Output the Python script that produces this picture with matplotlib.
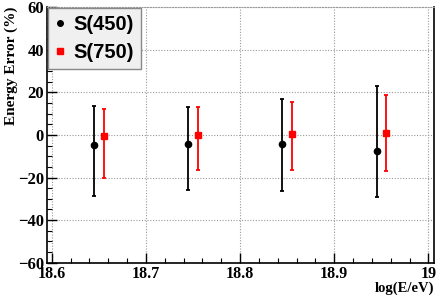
import matplotlib
matplotlib.use('Agg')
import matplotlib.pyplot as plt
from matplotlib.lines import Line2D
from matplotlib.ticker import MultipleLocator

# data
log_e_450 = [18.645, 18.745, 18.845, 18.945]
err_450 = [-4.8, -4.3, -4.3, -7.5]
err_450_up = [13.5, 13.2, 17.0, 22.9]
err_450_down = [-28.6, -25.7, -26.5, -29.0]

log_e_750 = [18.655, 18.755, 18.855, 18.955]
err_750 = [-0.6, 0.0, 0.3, 0.8]
err_750_up = [11.9, 13.0, 15.4, 18.6]
err_750_down = [-20.2, -16.5, -16.5, -17.0]

serif = ['Liberation Serif', 'DejaVu Serif']
sans = ['Liberation Sans', 'DejaVu Sans']

fig = plt.figure(figsize=(4.42, 2.99), dpi=100)
ax = fig.add_axes([0.106, 0.121, 0.876, 0.856])

# asymmetric errors from the bar ends
yerr_450 = [[v - d for v, d in zip(err_450, err_450_down)],
            [u - v for v, u in zip(err_450, err_450_up)]]
yerr_750 = [[v - d for v, d in zip(err_750, err_750_down)],
            [u - v for v, u in zip(err_750, err_750_up)]]

ax.errorbar(log_e_450, err_450, yerr=yerr_450, fmt='o', color='black', ms=4.5,
            elinewidth=1.3, capsize=1.5, capthick=1.3, zorder=3)
ax.errorbar(log_e_750, err_750, yerr=yerr_750, fmt='s', color='#ff0000', ms=4.5,
            elinewidth=1.3, capsize=1.5, capthick=1.3, zorder=3)

ax.set_xlim(18.5947, 19.006)
ax.set_ylim(-60, 60)
ax.xaxis.set_major_locator(MultipleLocator(0.1))
ax.xaxis.set_minor_locator(MultipleLocator(0.02))
ax.yaxis.set_major_locator(MultipleLocator(20))
ax.yaxis.set_minor_locator(MultipleLocator(5))
ax.set_xticks([18.6, 18.7, 18.8, 18.9, 19.0])
ax.set_xticklabels(['18.6', '18.7', '18.8', '18.9', '19'])

ax.tick_params(which='major', direction='in', length=7, width=1, pad=2,
               top=False, right=False)
ax.tick_params(which='minor', direction='in', length=3.5, width=0.8,
               top=False, right=False)
for lab in ax.get_xticklabels():
    lab.set_family(serif)
    lab.set_fontweight('bold')
    lab.set_fontsize(11.5)
for lab in ax.get_yticklabels():
    lab.set_family(serif)
    lab.set_fontweight('bold')
    lab.set_fontsize(12)

ax.grid(True, which='major', color='#999999', linestyle=(0, (1, 1.5)), linewidth=0.8)
ax.spines['top'].set_color('#999999')
ax.spines['top'].set_linestyle((0, (1, 1.5)))
ax.spines['top'].set_linewidth(0.8)
for s in ['left', 'bottom', 'right']:
    ax.spines[s].set_linewidth(1.2)

ax.set_ylabel('Energy Error (%)', family=serif, fontweight='bold', fontsize=11,
              loc='top', labelpad=0)
ax.set_xlabel('log(E/eV)', family=serif, fontweight='bold', fontsize=10.5,
              loc='right', labelpad=0)

# legend shows markers only
handles = [Line2D([], [], marker='o', color='black', linestyle='none', ms=4),
           Line2D([], [], marker='s', color='#ff0000', linestyle='none', ms=4)]
leg = ax.legend(handles, ['S(450)', 'S(750)'], loc='upper left',
                bbox_to_anchor=(0.003, 0.995), frameon=True, fancybox=False,
                prop={'family': sans, 'weight': 'bold', 'size': 14.5},
                handlelength=0.5, handletextpad=0.4, borderpad=0.35,
                labelspacing=0.45, borderaxespad=0)
leg.get_frame().set_facecolor('#f0f0f0')
leg.get_frame().set_edgecolor('#888888')
leg.get_frame().set_linewidth(1.0)
leg.get_frame().set_alpha(1)

plt.savefig('out.png', dpi=100)
